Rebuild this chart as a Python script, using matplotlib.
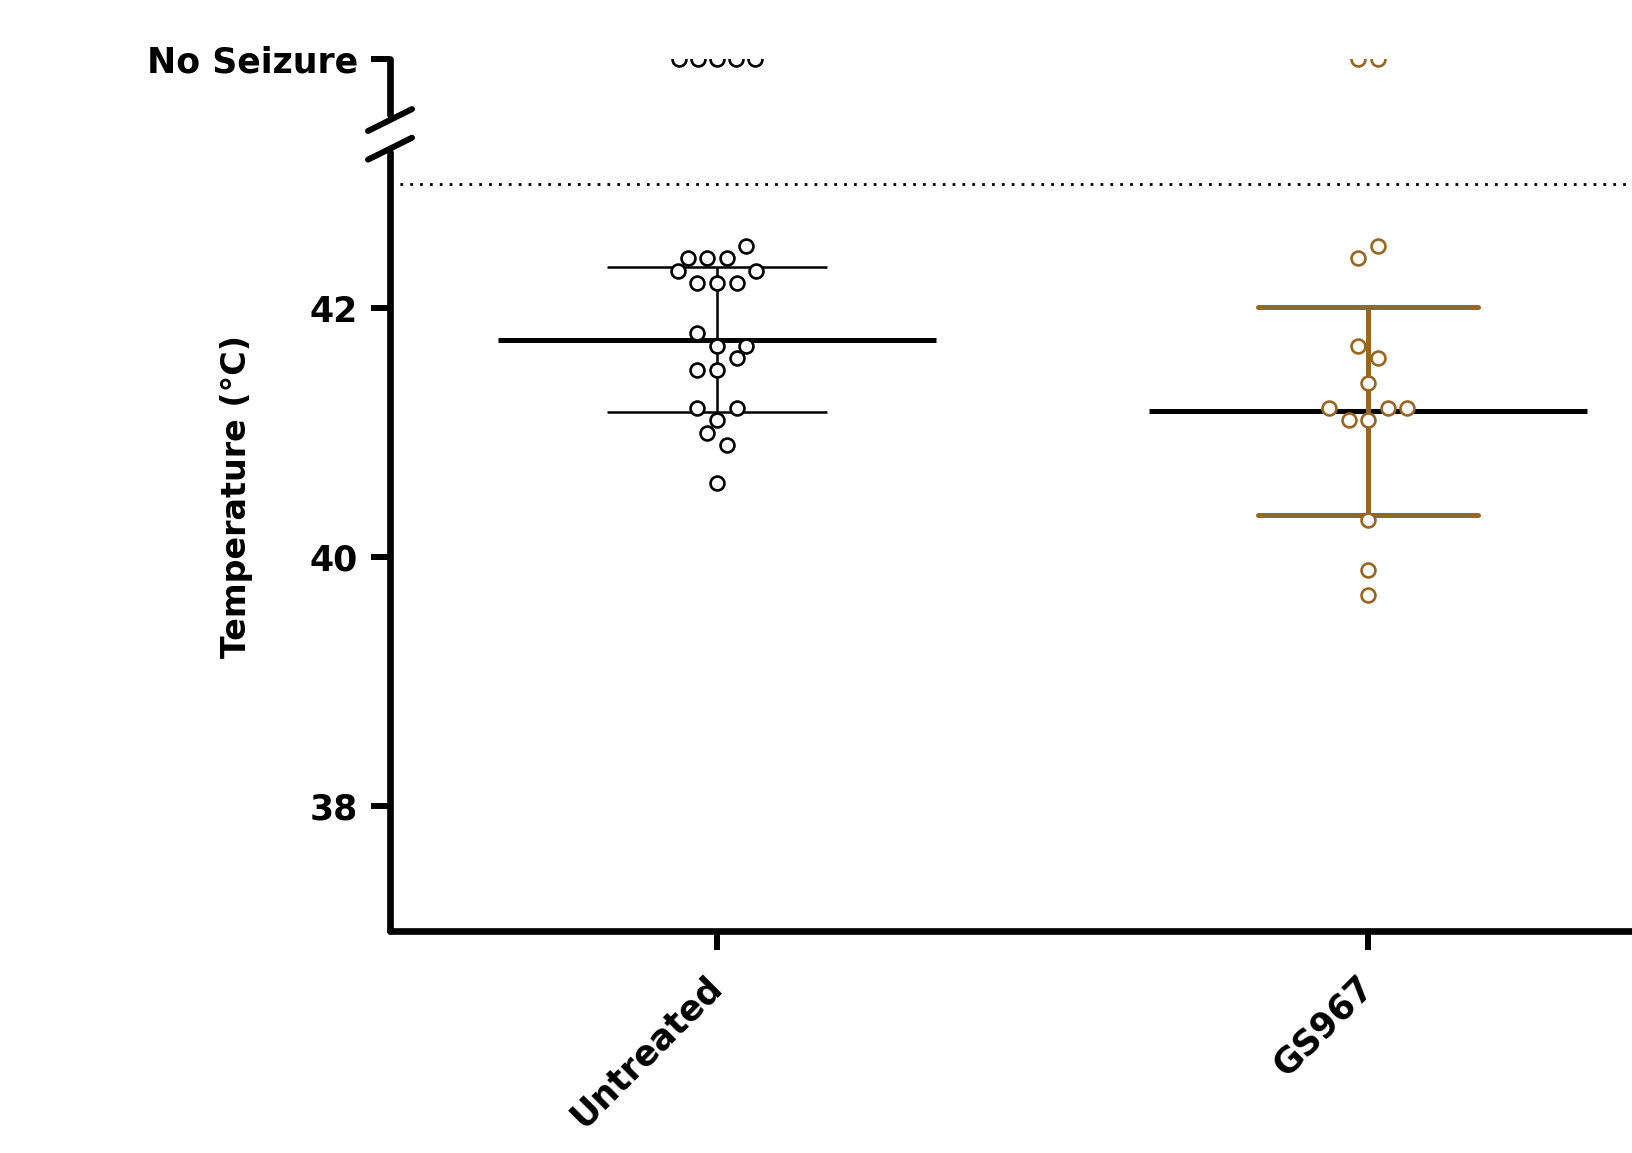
import numpy as np
import matplotlib
matplotlib.use("Agg")
import matplotlib.pyplot as plt

# ---------------- data ----------------
groups = ["Untreated", "GS967"]
untreated_temps = [42.5, 42.4, 42.4, 42.4, 42.3, 42.3, 42.2, 42.2, 42.2,
                   41.8, 41.7, 41.7, 41.6, 41.5, 41.5, 41.2, 41.2, 41.1,
                   41.0, 40.9, 40.6]
# swarm offsets (in marker-spacing units)
untreated_swarm = [1.5, -1.5, -0.5, 0.5, -2, 2, -1, 0, 1,
                   -1, 0, 1.5, 1, -1, 0, -1, 1, 0,
                   -0.5, 0.5, 0]
gs967_temps = [42.5, 42.4, 41.7, 41.6, 41.4, 41.2, 41.2, 41.2, 41.1, 41.1,
               40.3, 39.9, 39.7]
gs967_swarm = [0.5, -0.5, -0.5, 0.5, 0, -2, 1, 2, -1, 0, 0, 0, 0]
no_seizure_counts = [5, 2]

yticks = [38, 40, 42]
no_seizure_level = 44.0
seizure_threshold = 43.0
ylabel = "Temperature (°C)"

colors = ["black", "#996622"]
# --------------------------------------

plt.rcParams['font.family'] = ['DejaVu Sans']
fig = plt.figure(figsize=(16.33, 11.53), dpi=100)
ax = fig.add_axes([390 / 1633, (1153 - 931) / 1153, (1633 - 390) / 1633, (931 - 59) / 1153])
ax.set_xlim(-0.5023, 1.407)
ax.set_ylim(37, no_seizure_level)

step = 0.03
all_temps = [untreated_temps, gs967_temps]
all_swarm = [untreated_swarm, gs967_swarm]

for i, (temps, sw, col) in enumerate(zip(all_temps, all_swarm, colors)):
    t = np.array(temps)
    xs = i + np.array(sw) * step
    ax.plot(xs, t, linestyle='none', marker='o', markersize=10,
            markerfacecolor='white', markeredgecolor=col, markeredgewidth=1.9, zorder=4)
    n = no_seizure_counts[i]
    offs = (np.arange(n) - (n - 1) / 2) * step * 0.98
    ax.plot(i + offs, [no_seizure_level] * n, linestyle='none', marker='o', markersize=10,
            markerfacecolor='white', markeredgecolor=col, markeredgewidth=1.9, zorder=4)
    m = t.mean()
    sd = t.std(ddof=1)
    # mean line
    ax.plot([i - 0.336, i + 0.336], [m, m], color='black', lw=3.6, zorder=3,
            solid_capstyle='butt')
    elw = 1.8 if i == 0 else 3.6
    cap = 'butt' if i == 0 else 'round'
    ax.plot([i, i], [m - sd, m + sd], color=col, lw=elw, zorder=3, solid_capstyle=cap)
    for yy in (m - sd, m + sd):
        ax.plot([i - 0.169, i + 0.169], [yy, yy], color=col, lw=elw, zorder=3,
                solid_capstyle=cap)

# dotted threshold line
ax.axhline(seizure_threshold, color='black', lw=2.0, linestyle=(0, (1, 2.55)), zorder=2,
           dash_capstyle='butt')

# spines
for s in ['top', 'right', 'left']:
    ax.spines[s].set_visible(False)
ax.spines['bottom'].set_linewidth(4.8)
ax.spines['bottom'].set_capstyle('round')

# broken left axis
trans = ax.get_yaxis_transform()
ax.plot([0, 0], [37, 43.25], color='black', lw=4.8, transform=trans, clip_on=False,
        solid_capstyle='round', zorder=5)
ax.plot([0, 0], [43.55, no_seizure_level], color='black', lw=4.8, transform=trans,
        clip_on=False, solid_capstyle='round', zorder=5)
x0 = ax.get_xlim()[0]
dx = 0.0338
for yc in (43.51, 43.28):
    ax.plot([x0 - dx, x0 + dx], [yc - 0.088, yc + 0.088], color='black', lw=4.3,
            clip_on=False, solid_capstyle='round', zorder=5)

ax.set_yticks(yticks + [no_seizure_level])
ax.set_yticklabels([str(v) for v in yticks] + ["No Seizure"])
ax.set_xticks([0, 1])
ax.set_xticklabels(groups, rotation=45, ha='right', va='center', rotation_mode='anchor')
ax.tick_params(axis='both', direction='out', length=14, width=4.3, labelsize=25)
ax.tick_params(axis='y', pad=9)
ax.tick_params(axis='x', pad=22)
for lab in ax.get_xticklabels() + ax.get_yticklabels():
    lab.set_fontweight('bold')

fig.text(237 / 1633, 1 - 497 / 1153, ylabel, rotation=90, ha='center', va='center',
         fontsize=24, fontweight='bold')

fig.savefig("out.png", dpi=100)
